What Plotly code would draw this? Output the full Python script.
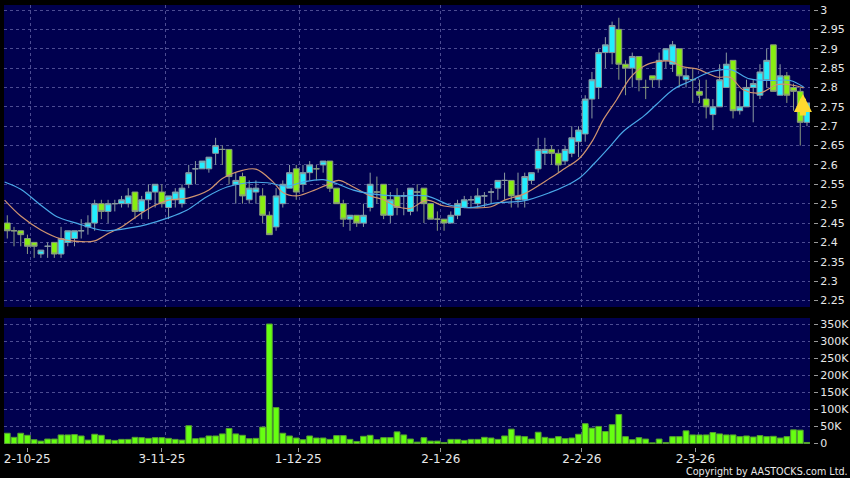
import plotly.graph_objects as go

# Candles, in order, oldest to newest
opens = [2.45,2.43,2.43,2.41,2.40,2.37,2.39,2.40,2.37,2.40,2.41,2.43,2.44,2.45,2.50,2.48,2.50,2.50,2.50,2.53,
         2.48,2.51,2.53,2.53,2.49,2.51,2.50,2.55,2.59,2.59,2.59,2.63,2.64,2.64,2.55,2.57,2.51,2.53,2.52,2.47,
         2.44,2.50,2.54,2.59,2.55,2.58,2.59,2.60,2.61,2.54,2.50,2.46,2.47,2.45,2.49,2.53,2.55,2.47,2.52,2.52,
         2.48,2.53,2.54,2.50,2.46,2.46,2.45,2.47,2.49,2.51,2.50,2.52,2.53,2.54,2.56,2.56,2.51,2.51,2.56,2.59,
         2.63,2.64,2.63,2.61,2.63,2.66,2.68,2.77,2.80,2.89,2.89,2.95,2.86,2.85,2.88,2.80,2.83,2.82,2.87,2.86,
         2.90,2.82,2.82,2.79,2.77,2.73,2.75,2.80,2.87,2.74,2.75,2.80,2.78,2.82,2.91,2.78,2.83,2.80,2.79,2.71]
highs = [2.47,2.44,2.43,2.42,2.40,2.38,2.40,2.40,2.44,2.43,2.43,2.46,2.47,2.51,2.51,2.51,2.51,2.52,2.54,2.53,
         2.52,2.55,2.55,2.55,2.52,2.54,2.55,2.60,2.61,2.61,2.62,2.67,2.65,2.64,2.58,2.58,2.56,2.56,2.54,2.48,
         2.54,2.56,2.60,2.60,2.60,2.61,2.60,2.61,2.61,2.54,2.51,2.47,2.47,2.50,2.58,2.57,2.55,2.53,2.54,2.53,
         2.54,2.55,2.54,2.50,2.48,2.46,2.48,2.51,2.52,2.52,2.54,2.53,2.54,2.56,2.58,2.56,2.58,2.58,2.58,2.67,
         2.67,2.65,2.64,2.65,2.70,2.70,2.78,2.84,2.90,2.93,2.97,2.98,2.87,2.89,2.88,2.82,2.83,2.89,2.90,2.92,
         2.90,2.85,2.85,2.82,2.82,2.77,2.86,2.89,2.87,2.79,2.82,2.82,2.86,2.90,2.91,2.86,2.84,2.81,2.80,2.76]
lows = [2.41,2.39,2.39,2.37,2.36,2.36,2.36,2.36,2.36,2.39,2.39,2.41,2.42,2.43,2.46,2.45,2.48,2.49,2.49,2.46,
        2.46,2.46,2.49,2.49,2.46,2.49,2.49,2.54,2.55,2.59,2.58,2.60,2.60,2.55,2.50,2.50,2.50,2.50,2.45,2.42,
        2.43,2.49,2.54,2.51,2.53,2.56,2.56,2.58,2.53,2.50,2.44,2.43,2.44,2.44,2.48,2.50,2.46,2.45,2.47,2.47,
        2.47,2.48,2.45,2.46,2.43,2.43,2.45,2.46,2.49,2.49,2.49,2.49,2.50,2.51,2.51,2.49,2.49,2.49,2.55,2.58,
        2.60,2.60,2.58,2.60,2.62,2.62,2.66,2.72,2.77,2.85,2.86,2.82,2.78,2.80,2.79,2.77,2.80,2.80,2.85,2.84,
        2.80,2.80,2.76,2.76,2.72,2.69,2.75,2.80,2.72,2.73,2.75,2.71,2.77,2.80,2.79,2.78,2.76,2.74,2.65,2.70]
closes = [2.43,2.43,2.42,2.39,2.39,2.38,2.39,2.37,2.41,2.43,2.43,2.43,2.45,2.50,2.48,2.50,2.50,2.51,2.52,2.48,
          2.51,2.53,2.55,2.50,2.52,2.53,2.54,2.58,2.59,2.61,2.62,2.65,2.64,2.57,2.56,2.52,2.54,2.54,2.47,2.42,
          2.52,2.55,2.58,2.53,2.58,2.60,2.59,2.61,2.54,2.50,2.46,2.47,2.45,2.47,2.55,2.53,2.47,2.51,2.49,2.52,
          2.54,2.53,2.50,2.46,2.46,2.45,2.47,2.50,2.51,2.51,2.52,2.52,2.53,2.56,2.56,2.52,2.52,2.57,2.58,2.64,
          2.64,2.63,2.60,2.64,2.67,2.69,2.77,2.82,2.89,2.91,2.96,2.86,2.85,2.88,2.82,2.80,2.82,2.87,2.90,2.91,
          2.83,2.83,2.82,2.78,2.75,2.75,2.82,2.86,2.74,2.75,2.80,2.81,2.84,2.87,2.79,2.83,2.78,2.79,2.71,2.76]
volumes = [30,18,30,24,11,7,13,13,25,25,26,22,10,27,24,11,9,12,12,18,17,15,17,17,15,12,10,52,14,16,22,22,28,44,28,24,14,15,48,350,
           105,30,22,16,11,22,16,16,12,23,23,12,6,21,24,11,17,17,34,25,13,4,17,
           7,7,3,12,12,9,12,12,18,16,12,22,42,22,20,13,33,18,15,20,14,16,27,58,45,50,35,55,85,20,11,17,13,2,13,3,20,20,37,25,25,25,32,28,25,25,20,22,19,23,20,21,16,20,40,39,3]

# Moving averages read at the candle positions given in their x lists
ma_short_x = [-0.4,2,5,8,11,13,15,17,20,22,24,27,30,32,35,37,39.5,41,43,45,47.5,49.3,51.5,54,56,58,60,62.4,65,68,72,74,77,80.8,82.7,85.2,87.2,88.7,90.7,92.7,94.7,96.6,98.6,100.6,102.6,105.6,107.6,109.5,112,114.5,116.5,118.5]
ma_short = [2.509,2.468,2.432,2.409,2.402,2.404,2.423,2.44,2.476,2.496,2.509,2.515,2.535,2.565,2.586,2.589,2.557,2.529,2.52,2.53,2.548,2.56,2.543,2.52,2.51,2.492,2.488,2.509,2.494,2.49,2.492,2.509,2.526,2.566,2.588,2.618,2.666,2.717,2.769,2.825,2.855,2.866,2.868,2.853,2.848,2.827,2.826,2.794,2.786,2.807,2.807,2.799]
ma_long_x = [-0.4,2,5,7.4,10.4,12.8,14.7,18.7,20.7,23.7,26.7,29.7,32.7,35.7,38.7,41.6,44,47,49,51.5,54,58,62.4,65.9,68.9,72.8,76.8,80.8,83.2,85.2,87.2,89.7,91.7,94.7,96.6,99.1,101.6,104.6,107.6,110.5,113.5,116.5,118.5]
ma_long = [2.556,2.537,2.496,2.466,2.449,2.436,2.43,2.439,2.446,2.462,2.483,2.518,2.543,2.554,2.554,2.545,2.556,2.562,2.552,2.535,2.526,2.52,2.52,2.496,2.49,2.502,2.507,2.529,2.547,2.567,2.601,2.648,2.687,2.726,2.756,2.795,2.816,2.84,2.846,2.822,2.818,2.818,2.801]

price_ticks = [3,2.95,2.9,2.85,2.8,2.75,2.7,2.65,2.6,2.55,2.5,2.45,2.4,2.35,2.3,2.25]
price_labels = ["3","2.95","2.9","2.85","2.8","2.75","2.7","2.65","2.6","2.55","2.5","2.45","2.4","2.35","2.3","2.25"]
vol_ticks = [0,50,100,150,200,250,300,350]
vol_labels = ["0","50K","100K","150K","200K","250K","300K","350K"]
date_labels = ["2-10-25","3-11-25","1-12-25","2-1-26","2-2-26","2-3-26"]
date_ticks = [2.97,23,43.3,64.5,85.5,102.4]
date_grid = [3.48,23.57,43.45,64.4,85.5,102.8]

xs = list(range(len(closes)))
FONT = "DejaVu Sans"
GRID = "#4c4c92"
NAVY = "#00004f"
X_RANGE = [-0.49, 119.45]

fig = go.Figure()
fig.add_trace(go.Candlestick(
    x=xs, open=opens, high=highs, low=lows, close=closes, xaxis="x2", yaxis="y",
    increasing=dict(fillcolor="#22eeff", line=dict(color="#8a9aa0", width=1)),
    decreasing=dict(fillcolor="#88ee11", line=dict(color="#8a9a80", width=1)),
    whiskerwidth=0, showlegend=False))
fig.add_trace(go.Scatter(x=ma_short_x, y=ma_short, mode="lines", xaxis="x2", yaxis="y",
                         line=dict(color="#d09470", width=1.2, shape="spline"), showlegend=False))
fig.add_trace(go.Scatter(x=ma_long_x, y=ma_long, mode="lines", xaxis="x2", yaxis="y",
                         line=dict(color="#4aa8e8", width=1.2, shape="spline"), showlegend=False))
fig.add_trace(go.Bar(x=xs, y=volumes, xaxis="x", yaxis="y2",
                     marker=dict(color="#66ff11", line=dict(color="#55a030", width=1)), showlegend=False))

minor = dict(tickmode="array", tickvals=date_grid, showgrid=True, gridcolor=GRID, griddash="3px,3px",
             gridwidth=1, ticks="")
PW = 812  # plot-area width in px
PH = 442  # plot-area height in px
xdom = [0, 806 / PW]
fig.update_layout(
    width=850, height=478, autosize=False,
    margin=dict(l=4, r=34, t=5, b=31, pad=0, autoexpand=False),
    paper_bgcolor="#000000", plot_bgcolor=NAVY,
    font=dict(family=FONT, color="#e8e8e8", size=11),
    bargap=0.14, boxgap=0.14, boxgroupgap=0,
    xaxis=dict(domain=xdom, range=X_RANGE, anchor="free", position=0, tickmode="array",
               tickvals=date_ticks, ticktext=date_labels, showgrid=False, zeroline=False,
               ticks="outside", ticklen=4, tickcolor="#999999", tickfont=dict(size=12, color="#e8e8e8"),
               ticklabelstandoff=-3, minor=minor, rangeslider=dict(visible=False), showline=False),
    xaxis2=dict(domain=xdom, range=X_RANGE, anchor="y", matches="x", showticklabels=False,
                tickmode="array", tickvals=[], ticks="", showgrid=False, zeroline=False,
                minor=minor, rangeslider=dict(visible=False), showline=False),
    yaxis=dict(domain=[(447 - 307) / PH, 1], range=[2.2332, 3.0129], anchor="free", position=809 / PW,
               side="right", tickmode="array", tickvals=price_ticks, ticktext=price_labels,
               showgrid=True, gridcolor=GRID, griddash="3px,3px", zeroline=False, showline=False,
               ticks="outside", ticklen=4, tickcolor="#999999",
               tickfont=dict(size=11, color="#e8e8e8")),
    yaxis2=dict(domain=[3 / PH, (447 - 318) / PH], range=[-1.5, 367.6], anchor="free", position=809 / PW,
                side="right", tickmode="array", tickvals=vol_ticks, ticktext=vol_labels,
                showgrid=True, gridcolor=GRID, griddash="3px,3px", zeroline=False, showline=False,
                ticks="outside", ticklen=4, tickcolor="#999999",
                tickfont=dict(size=11, color="#e8e8e8")),
    annotations=[
        dict(text="Copyright by AASTOCKS.com Ltd.", xref="paper", yref="paper",
             x=846 / PW, y=(447 - 471) / PH, xanchor="right", yanchor="middle", showarrow=False,
             font=dict(family=FONT, size=9.6, color="#e8e8e8")),
        dict(text="", xref="x2", yref="y", x=118.4, y=2.783, ax=0, ay=23, showarrow=True,
             arrowhead=2, arrowsize=0.6, arrowwidth=6, arrowcolor="#ffd92e", standoff=0),
    ],
)

fig.write_html("out.html", config={"displayModeBar": False},
               post_script="document.body.style.margin='0';document.body.style.background='#000';document.body.style.overflow='hidden';")
